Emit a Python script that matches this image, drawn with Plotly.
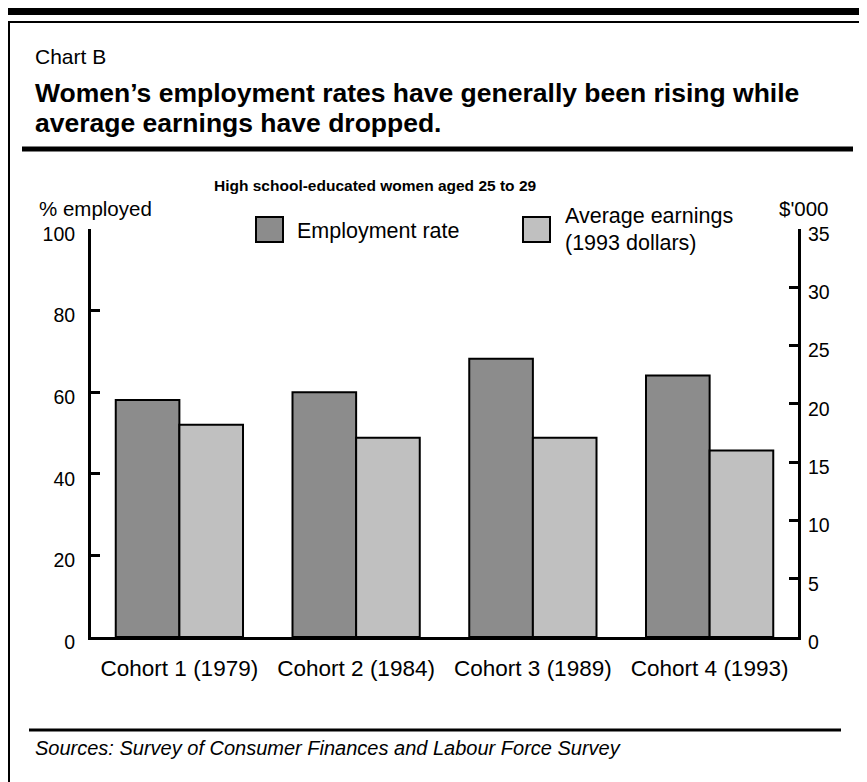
import plotly.graph_objects as go

categories = ["Cohort 1 (1979)", "Cohort 2 (1984)", "Cohort 3 (1989)", "Cohort 4 (1993)"]
employment_rate = [58.1, 60.0, 68.2, 64.1]
avg_earnings = [18.2, 17.1, 17.1, 16.0]
series_names = ["Employment rate", "Average earnings", "(1993 dollars)"]
left_ticks = [0, 20, 40, 60, 80, 100]
right_ticks = [0, 5, 10, 15, 20, 25, 30, 35]

# page is shown with an 8px body margin; work in page coordinates and shift
OFF = 8
W, H = 867 - OFF, 782 - OFF
L, R, T, B = 91, 798, 229, 637  # plot area in page px
FONT = "Liberation Sans, Arial, sans-serif"
DARK = "#8c8c8c"
LIGHT = "#c0c0c0"


def px(x):
    return (x - L) / (R - L)


def py(y):
    return (B - y) / (B - T)


fig = go.Figure()
fig.add_trace(go.Bar(x=categories, y=employment_rate, name=series_names[0],
                     marker=dict(color=DARK, line=dict(color="black", width=2)),
                     offsetgroup="a", yaxis="y"))
fig.add_trace(go.Bar(x=categories, y=avg_earnings, name=series_names[1],
                     marker=dict(color=LIGHT, line=dict(color="black", width=2)),
                     offsetgroup="b", yaxis="y2"))

shapes = []
shapes.append(dict(type="rect", xref="paper", yref="paper", x0=px(7), x1=px(880), y0=py(0), y1=py(15),
                   fillcolor="black", line=dict(width=0), layer="above"))
shapes.append(dict(type="rect", xref="paper", yref="paper", x0=px(9), x1=px(865), y0=py(22), y1=py(790),
                   fillcolor="rgba(0,0,0,0)", line=dict(color="black", width=2)))
shapes.append(dict(type="line", xref="paper", yref="paper", x0=px(22), x1=px(853), y0=py(149), y1=py(149),
                   line=dict(color="black", width=5)))
shapes.append(dict(type="line", xref="paper", yref="paper", x0=px(29), x1=px(841), y0=py(730), y1=py(730),
                   line=dict(color="black", width=3)))
shapes.append(dict(type="rect", xref="paper", yref="paper", x0=px(256), x1=px(283), y0=py(217), y1=py(242),
                   fillcolor=DARK, line=dict(color="black", width=2)))
shapes.append(dict(type="rect", xref="paper", yref="paper", x0=px(523), x1=px(550), y0=py(217), y1=py(242),
                   fillcolor=LIGHT, line=dict(color="black", width=2)))


def ann(text, x, y, size, xanchor="left", bold=False, italic=False):
    if bold:
        text = "<b>" + text + "</b>"
    if italic:
        text = "<i>" + text + "</i>"
    return dict(text=text, x=px(x), y=py(y), xref="paper", yref="paper", xanchor=xanchor, yanchor="middle",
                showarrow=False, font=dict(family=FONT, size=size, color="black"))


annotations = [
    ann("Chart B", 33, 57, 21),
    ann("Women’s employment rates have generally been rising while", 33, 93, 26.5, bold=True),
    ann("average earnings have dropped.", 33, 123, 26.5, bold=True),
    ann("High school-educated women aged 25 to 29", 375, 186, 15.5, xanchor="center", bold=True),
    ann("% employed", 37, 208, 20.5),
    ann("$'000", 831, 208, 20.5, xanchor="right"),
    ann(series_names[0], 295, 231, 21.5),
    ann(series_names[1], 563, 216, 21.5),
    ann(series_names[2], 563, 243, 21.5),
    ann("Sources: Survey of Consumer Finances and Labour Force Survey", 33, 748, 20, italic=True),
]

fig.update_layout(
    width=W, height=H,
    margin=dict(l=L - OFF, r=W - (R - OFF), t=T - OFF, b=H - (B - OFF), pad=0),
    paper_bgcolor="white", plot_bgcolor="white",
    barmode="group", bargap=0.28, bargroupgap=0,
    showlegend=False,
    font=dict(family=FONT, size=20, color="black"),
    xaxis=dict(showline=True, linecolor="black", linewidth=3, ticks="", showgrid=False,
               tickfont=dict(family=FONT, size=22.5), ticklabelstandoff=9),
    yaxis=dict(range=[0, 100], tickvals=left_ticks, showline=True, linecolor="black", linewidth=3,
               ticks="inside", ticklen=9, tickwidth=3, tickcolor="black", showgrid=False, zeroline=False,
               tickfont=dict(family=FONT, size=19.5), ticklabelstandoff=9, ticklabelshift=5),
    yaxis2=dict(range=[0, 35], tickvals=right_ticks, overlaying="y", side="right", showline=True,
                linecolor="black", linewidth=3, ticks="inside", ticklen=9, tickwidth=3, tickcolor="black",
                showgrid=False, zeroline=False, tickfont=dict(family=FONT, size=19.5), ticklabelstandoff=3,
                ticklabelshift=5),
    shapes=shapes,
    annotations=annotations,
)

fig.write_html("out.html")
